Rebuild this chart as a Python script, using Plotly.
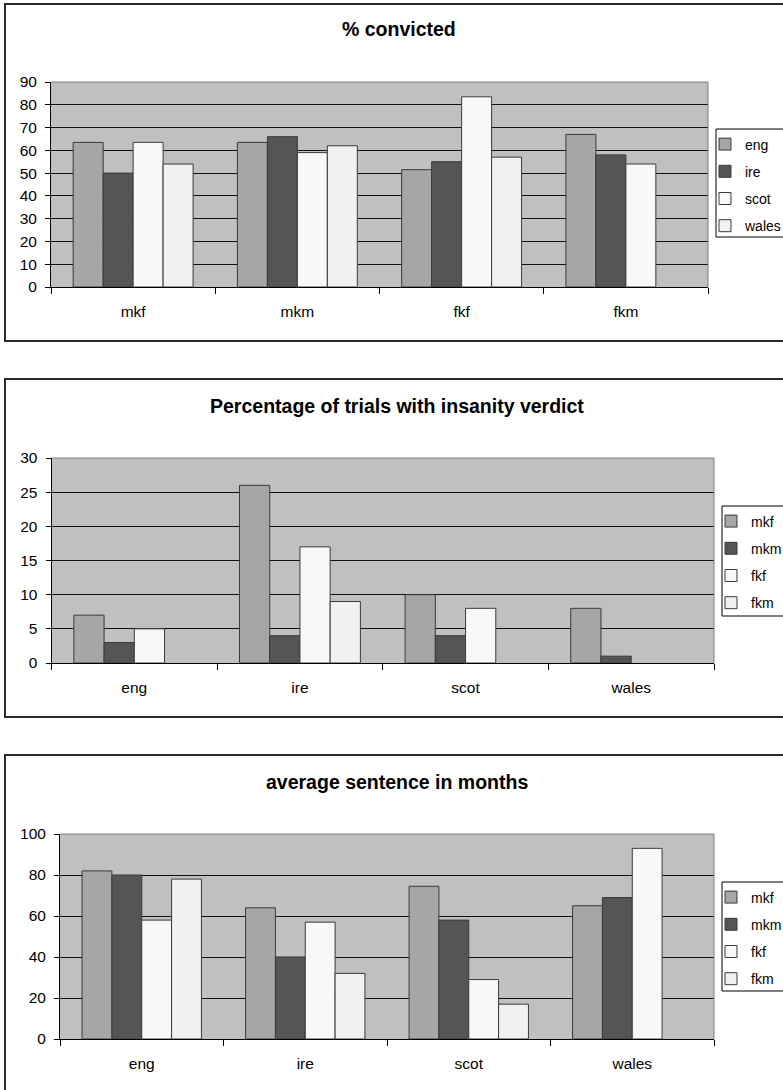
import plotly.graph_objects as go

W, H = 783, 1090

# ---------------- data ----------------
conv_title = "% convicted"
conv_cats = ["mkf", "mkm", "fkf", "fkm"]
conv_eng = [63.5, 63.5, 51.5, 67]
conv_ire = [50, 66, 55, 58]
conv_scot = [63.5, 59, 83.5, 54]
conv_wales = [54, 62, 57, None]
conv_ticks = [0, 10, 20, 30, 40, 50, 60, 70, 80, 90]

ins_title = "Percentage of trials with insanity verdict"
ins_cats = ["eng", "ire", "scot", "wales"]
ins_mkf = [7, 26, 10, 8]
ins_mkm = [3, 4, 4, 1]
ins_fkf = [5, 17, 8, None]
ins_fkm = [None, 9, None, None]
ins_ticks = [0, 5, 10, 15, 20, 25, 30]

sent_title = "average sentence in months"
sent_cats = ["eng", "ire", "scot", "wales"]
sent_mkf = [82, 64, 74.5, 65]
sent_mkm = [80, 40, 58, 69]
sent_fkf = [58, 57, 29, 93]
sent_fkm = [78, 32, 17, None]
sent_ticks = [0, 20, 40, 60, 80, 100]

# ---------------- style ----------------
FONT = "Liberation Sans, Arial, sans-serif"
C_MID = "#a6a6a6"
C_DARK = "#555555"
C_WHITE1 = "#f8f8f8"
C_WHITE2 = "#f1f1f1"
COLORS = [C_MID, C_DARK, C_WHITE1, C_WHITE2]
EDGE = "#3a3a3a"


def px_x(p):
    return p / W


def px_y(p):
    return 1 - p / H


fig = go.Figure()

panels = [
    dict(cats=conv_cats, names=["eng", "ire", "scot", "wales"],
         series=[conv_eng, conv_ire, conv_scot, conv_wales], ticks=conv_ticks,
         title=conv_title, plot=(51, 708, 82, 287), box=(5, 4, 341),
         titlepos=(399, 29), leg=(705, 128.5), legbox=(716, 129, 237)),
    dict(cats=ins_cats, names=["mkf", "mkm", "fkf", "fkm"],
         series=[ins_mkf, ins_mkm, ins_fkf, ins_fkm], ticks=ins_ticks,
         title=ins_title, plot=(51.5, 714, 458, 663), box=(5, 379, 717),
         titlepos=(397, 406), leg=(711, 505.5), legbox=(722, 506, 616)),
    dict(cats=sent_cats, names=["mkf", "mkm", "fkf", "fkm"],
         series=[sent_mkf, sent_mkm, sent_fkf, sent_fkm], ticks=sent_ticks,
         title=sent_title, plot=(60, 714, 834, 1039), box=(5, 755, 1096),
         titlepos=(397, 782), leg=(711, 881.5), legbox=(722, 882, 991)),
]

shapes = []
annotations = []
layout = {}

for i, p in enumerate(panels):
    n = "" if i == 0 else str(i + 1)
    xa, ya = "x" + n, "y" + n
    legname = "legend" + n
    for j, (nm, vals) in enumerate(zip(p["names"], p["series"])):
        fig.add_trace(go.Bar(
            x=p["cats"], y=vals, name=nm, xaxis=xa, yaxis=ya,
            marker=dict(color=COLORS[j], line=dict(color=EDGE, width=1)),
            legend=legname, legendgroup=f"{i}_{nm}",
        ))
    x0, x1, yt, yb = p["plot"]
    layout["xaxis" + n] = dict(
        domain=[px_x(x0), px_x(x1)], anchor=ya,
        showline=True, linecolor="black", linewidth=1,
        ticks="outside", tickson="boundaries", ticklen=6, tickcolor="black",
        showgrid=False, ticklabelstandoff=10, automargin=False,
        tickfont=dict(family=FONT, size=15.5, color="black"),
        fixedrange=True,
    )
    layout["yaxis" + n] = dict(
        domain=[px_y(yb), px_y(yt)], anchor=xa,
        range=[0, p["ticks"][-1]], tickmode="array", tickvals=p["ticks"],
        showline=True, linecolor="black", linewidth=1,
        ticks="outside", ticklen=5, tickcolor="black",
        showgrid=True, gridcolor="#111111", gridwidth=1, zeroline=False,
        ticklabelstandoff=5, automargin=False,
        tickfont=dict(family=FONT, size=15.5, color="black"),
        fixedrange=True,
    )
    lx, ly = p["leg"]
    layout[legname] = dict(
        x=px_x(lx), xanchor="left", y=px_y(ly), yanchor="top",
        bgcolor="rgba(0,0,0,0)", borderwidth=0,
        font=dict(family=FONT, size=14, color="black"),
        traceorder="grouped", tracegroupgap=6,
    )
    # title
    tx, ty = p["titlepos"]
    annotations.append(dict(
        text="<b>" + p["title"] + "</b>", x=px_x(tx), y=px_y(ty),
        xref="paper", yref="paper", showarrow=False,
        xanchor="center", yanchor="middle",
        font=dict(family=FONT, size=19.5, color="black"),
    ))
    # outer chart frame
    bx0, by0, by1 = p["box"]
    shapes.append(dict(type="rect", xref="paper", yref="paper",
                       x0=px_x(bx0), x1=px_x(800), y0=px_y(by1), y1=px_y(by0),
                       line=dict(color="#2a2a2a", width=2), layer="below"))
    # legend frame
    gx0, gy0, gy1 = p["legbox"]
    shapes.append(dict(type="rect", xref="paper", yref="paper",
                       x0=px_x(gx0), x1=px_x(800), y0=px_y(gy1), y1=px_y(gy0),
                       line=dict(color="black", width=1), fillcolor="white",
                       layer="below"))
    # plot-area border (top and right, grey)
    dref_x, dref_y = xa + " domain", ya + " domain"
    shapes.append(dict(type="line", xref=dref_x, yref=dref_y,
                       x0=0, x1=1, y0=1, y1=1,
                       line=dict(color="#7f7f7f", width=1), layer="above"))
    shapes.append(dict(type="line", xref=dref_x, yref=dref_y,
                       x0=1, x1=1, y0=0, y1=1,
                       line=dict(color="#7f7f7f", width=1), layer="above"))

fig.update_layout(
    width=W, height=H,
    margin=dict(l=0, r=0, t=0, b=0, pad=0, autoexpand=False),
    paper_bgcolor="white", plot_bgcolor="#c0c0c0",
    barmode="group", bargap=0.27, bargroupgap=0,
    font=dict(family=FONT, color="black"),
    shapes=shapes, annotations=annotations,
    **layout,
)

fig.write_html(
    "out.html",
    config={"displayModeBar": False},
    post_script=("document.body.style.margin='0';"
                 "document.body.style.overflow='hidden';"
                 "document.documentElement.style.overflow='hidden';"),
)
